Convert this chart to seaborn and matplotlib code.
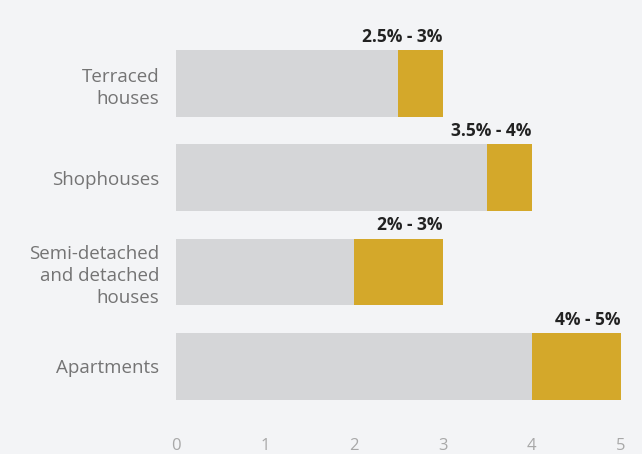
import matplotlib
matplotlib.use("Agg")
import matplotlib.pyplot as plt
import seaborn as sns
import pandas as pd

categories = ["Terraced\nhouses", "Shophouses", "Semi-detached\nand detached\nhouses", "Apartments"]
low = [2.5, 3.5, 2.0, 4.0]
high = [3.0, 4.0, 3.0, 5.0]
labels = ["2.5% - 3%", "3.5% - 4%", "2% - 3%", "4% - 5%"]
xticks = [0, 1, 2, 3, 4, 5]

sns.set_theme(style="white")
plt.rcParams['font.family'] = ['Open Sans', 'DejaVu Sans']

df = pd.DataFrame({"cat": categories, "low": low, "high": high})

fig = plt.figure(figsize=(6.42, 4.54), dpi=100)
fig.patch.set_facecolor("#f3f4f6")
ax = fig.add_axes([0.274, 0.075, 0.693, 0.881])
ax.set_facecolor("#f3f4f6")

sns.barplot(data=df, y="cat", x="high", color="#d4a82a", orient="h", width=0.71,
            saturation=1, linewidth=0, ax=ax)
sns.barplot(data=df, y="cat", x="low", color="#d5d6d8", orient="h", width=0.71,
            saturation=1, linewidth=0, ax=ax)

for i, (h, lab) in enumerate(zip(high, labels)):
    ax.text(h, i - 0.40, lab, ha="right", va="bottom", fontsize=12.5,
            fontweight="bold", color="#222222")

ax.set_xlim(0, 5)
ax.set_ylim(3.57, -0.675)
ax.set_xticks(xticks)
ax.set_xticklabels([str(t) for t in xticks], color="#a8a8a8", fontsize=12)
ax.tick_params(axis="x", length=0, pad=13)
ax.tick_params(axis="y", length=0, pad=12, labelsize=13.5, labelcolor="#747474")
for lbl in ax.get_yticklabels():
    lbl.set_horizontalalignment("right")
    lbl.set_multialignment("right")
    lbl.set_linespacing(1.3)
ax.set_xlabel("")
ax.set_ylabel("")
for s in ax.spines.values():
    s.set_visible(False)

fig.savefig("out.png", dpi=100, facecolor=fig.get_facecolor())
